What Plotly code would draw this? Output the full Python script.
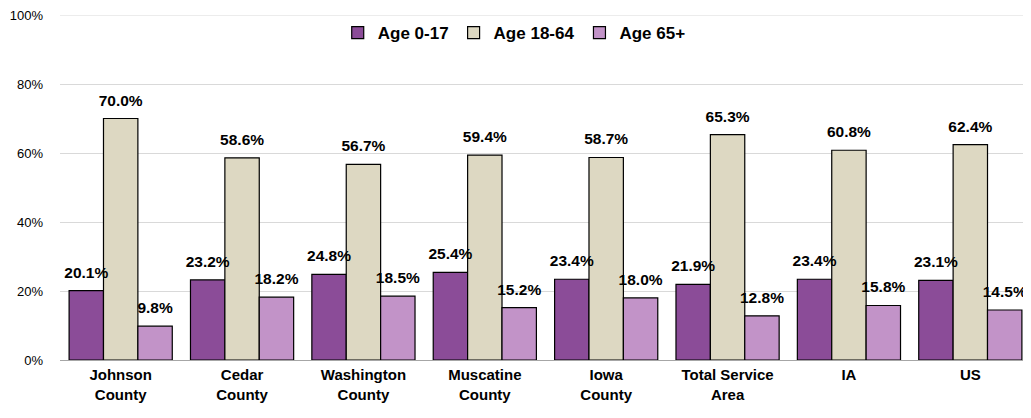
import plotly.graph_objects as go

categories = ["Johnson<br>County", "Cedar<br>County", "Washington<br>County", "Muscatine<br>County",
              "Iowa<br>County", "Total Service<br>Area", "IA", "US"]
series_names = ["Age 0-17", "Age 18-64", "Age 65+"]
age_0_17 = [20.1, 23.2, 24.8, 25.4, 23.4, 21.9, 23.4, 23.1]
age_18_64 = [70.0, 58.6, 56.7, 59.4, 58.7, 65.3, 60.8, 62.4]
age_65_plus = [9.8, 18.2, 18.5, 15.2, 18.0, 12.8, 15.8, 14.5]
y_ticks = [0, 20, 40, 60, 80, 100]
y_tick_labels = ["0%", "20%", "40%", "60%", "80%", "100%"]

colors = ["#8B4C98", "#DDD8C2", "#C293C8"]
font_main = "Liberation Sans Narrow, Arial Narrow, Liberation Sans, Arial, sans-serif"

fig = go.Figure()
for i, (name, vals, col) in enumerate(zip(series_names, [age_0_17, age_18_64, age_65_plus], colors)):
    fig.add_trace(go.Bar(
        x=categories, y=vals, name=name, offsetgroup=str(i),
        marker=dict(color=col, line=dict(color="#000000", width=1.2)),
    ))
for i, vals in enumerate([age_0_17, age_18_64, age_65_plus]):
    fig.add_trace(go.Scatter(
        x=categories, y=vals, offsetgroup=str(i), mode="markers+text",
        marker=dict(size=13, opacity=0), showlegend=False, hoverinfo="skip",
        text=[f"{v:.1f}%" for v in vals], textposition="top center",
        textfont=dict(family=font_main, size=15.5, color="#000000", weight="bold"),
        cliponaxis=False,
    ))

# top gridline (plotly drops the gridline at the exact range end)
fig.add_shape(type="line", xref="paper", x0=0, x1=1, yref="y",
              y0=y_ticks[-1], y1=y_ticks[-1], line=dict(color="#D9D9D9", width=1), layer="below")

fig.update_layout(
    barmode="group", bargap=0.15, bargroupgap=0,
    scattermode="group", scattergap=0.15,
    width=1031, height=418,
    margin=dict(l=52, r=8, t=7, b=66, autoexpand=False),
    plot_bgcolor="white", paper_bgcolor="white",
    showlegend=True,
    legend=dict(orientation="h", xref="container", x=0.491, xanchor="center",
                yref="container", y=0.94, yanchor="middle",
                font=dict(family=font_main, size=17, color="#000", weight="bold"),
                bgcolor="rgba(0,0,0,0)", traceorder="normal", itemwidth=30),
    font=dict(family=font_main),
)
fig.update_yaxes(range=[0, 100], tickvals=y_ticks, ticktext=y_tick_labels, automargin=False,
                 showgrid=True, gridcolor="#D9D9D9", gridwidth=1,
                 tickfont=dict(family=font_main, size=13, color="#000"),
                 zeroline=True, zerolinecolor="#A6A6A6", zerolinewidth=1,
                 showline=False, ticks="", ticklabelstandoff=16,
                 ticklabeloverflow="allow")
fig.update_xaxes(tickfont=dict(family=font_main, size=15, color="#000", weight="bold"),
                 automargin=False, showline=False, ticks="", showgrid=False,
                 ticklabelstandoff=4)

fig.write_html("out.html")
